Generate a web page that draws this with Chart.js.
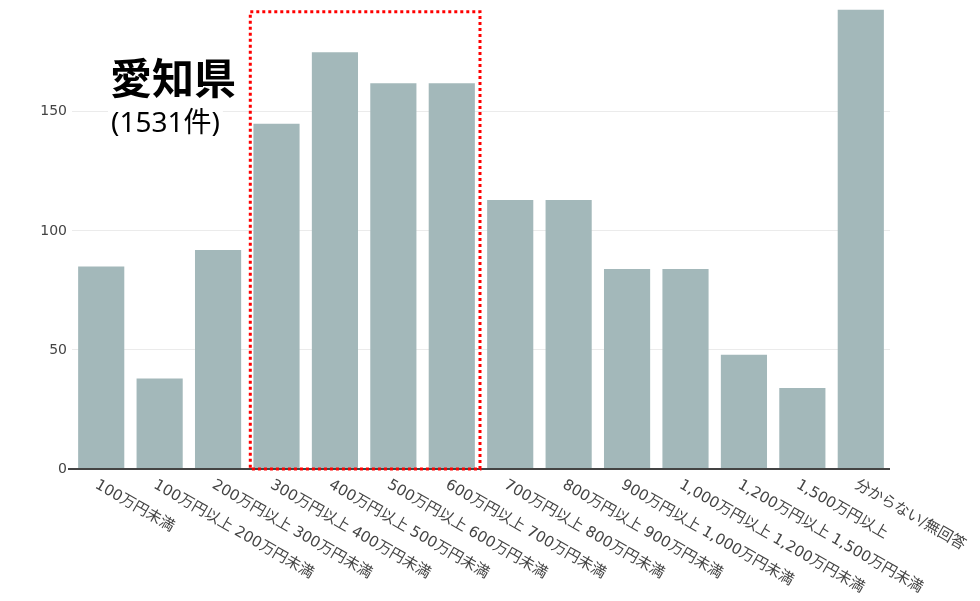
<!DOCTYPE html>
<html>
<head>
<meta charset="utf-8">
<script src="https://cdn.jsdelivr.net/npm/chart.js@4/dist/chart.umd.min.js"></script>
<style>
  body { margin: 0; background: #fff; }
  #wrap { width: 980px; height: 601px; }
</style>
</head>
<body>
<div id="wrap"><canvas id="chart1"></canvas></div>
<script>
const categories = [
    '100万円未満',
    '100万円以上 200万円未満',
    '200万円以上 300万円未満',
    '300万円以上 400万円未満',
    '400万円以上 500万円未満',
    '500万円以上 600万円未満',
    '600万円以上 700万円未満',
    '700万円以上 800万円未満',
    '800万円以上 900万円未満',
    '900万円以上 1,000万円未満',
    '1,000万円以上 1,200万円未満',
    '1,200万円以上 1,500万円未満',
    '1,500万円以上',
    '分からない/無回答'
];
const counts = [85, 38, 92, 145, 175, 162, 162, 113, 113, 84, 84, 48, 34, 193];
const yTicks = [0, 50, 100, 150];

const titleText = '愛知県';
const subtitleText = '(1531件)';

// categories inside the red dotted box (first, last index) and its top value
const highlightRange = [3, 6];
const highlightTop = 192;

const chart1 = document.getElementById('chart1');

const labelsPlugin = {
    id: 'rotatedLabels',
    afterDraw(chart) {
        const ctx = chart.ctx;
        const xs = chart.scales.x;
        const ys = chart.scales.y;
        const area = chart.chartArea;

        // x labels, rotated down to the right
        ctx.save();
        ctx.font = '15px "DejaVu Sans", "Noto Sans CJK JP"';
        ctx.fillStyle = '#444';
        ctx.textAlign = 'left';
        ctx.textBaseline = 'middle';
        for (let i = 0; i < categories.length; i++) {
            let px = xs.getPixelForValue(i);
            ctx.save();
            ctx.translate(px - 5, area.bottom + 15);
            ctx.rotate(Math.PI / 6);
            ctx.fillText(categories[i], 0, 0);
            ctx.restore();
        }
        ctx.restore();

        // red dotted box
        let step = xs.getPixelForValue(1) - xs.getPixelForValue(0);
        let left = xs.getPixelForValue(highlightRange[0]) - step / 2 + 3;
        let right = xs.getPixelForValue(highlightRange[1]) + step / 2 - 1;
        let top = ys.getPixelForValue(highlightTop);
        let bottom = ys.getPixelForValue(0);
        ctx.save();
        ctx.strokeStyle = '#ff0000';
        ctx.lineWidth = 3;
        ctx.setLineDash([3, 3]);
        ctx.strokeRect(left, top, right - left, bottom - top);
        ctx.restore();

        // title on a white box (hides the grid line behind it)
        ctx.save();
        ctx.font = '28px "Noto Sans", "Noto Sans CJK JP"';
        let subW = ctx.measureText(subtitleText).width;
        ctx.fillStyle = '#fff';
        ctx.fillRect(108, 100, subW + 6, 40);
        ctx.fillStyle = '#000';
        ctx.textAlign = 'left';
        ctx.textBaseline = 'alphabetic';
        ctx.fillText(subtitleText, 111, 132);
        ctx.font = 'bold 42px "Noto Sans CJK JP"';
        ctx.fillText(titleText, 110, 94);
        ctx.restore();
    }
};

new Chart(chart1, {
    type: 'bar',
    data: {
        labels: categories,
        datasets: [{
            data: counts,
            backgroundColor: '#a3b8ba',
            borderWidth: 0,
            barPercentage: 0.79,
            categoryPercentage: 1
        }]
    },
    options: {
        responsive: true,
        maintainAspectRatio: false,
        animation: false,
        layout: { padding: { top: 0, right: 90, bottom: 132, left: 0 } },
        plugins: {
            legend: { display: false },
            tooltip: { enabled: false }
        },
        scales: {
            x: {
                ticks: { display: false },
                grid: { display: false, drawTicks: false },
                border: { display: false }
            },
            y: {
                min: 0,
                max: 193,
                afterFit: function (scale) { scale.width = 72; },
                afterBuildTicks: function (scale) {
                    scale.ticks = yTicks.map(v => ({ value: v }));
                },
                ticks: {
                    color: '#444',
                    padding: 1,
                    font: { family: '"DejaVu Sans"', size: 14 }
                },
                grid: {
                    color: ctx => ctx.tick && ctx.tick.value === 0 ? '#444' : '#ebebeb',
                    lineWidth: ctx => ctx.tick && ctx.tick.value === 0 ? 2 : 1,
                    tickColor: ctx => ctx.tick && ctx.tick.value === 0 ? '#444' : 'rgba(0,0,0,0)',
                    tickLength: 4
                },
                border: { display: false }
            }
        }
    },
    plugins: [labelsPlugin]
});
</script>
</body>
</html>
